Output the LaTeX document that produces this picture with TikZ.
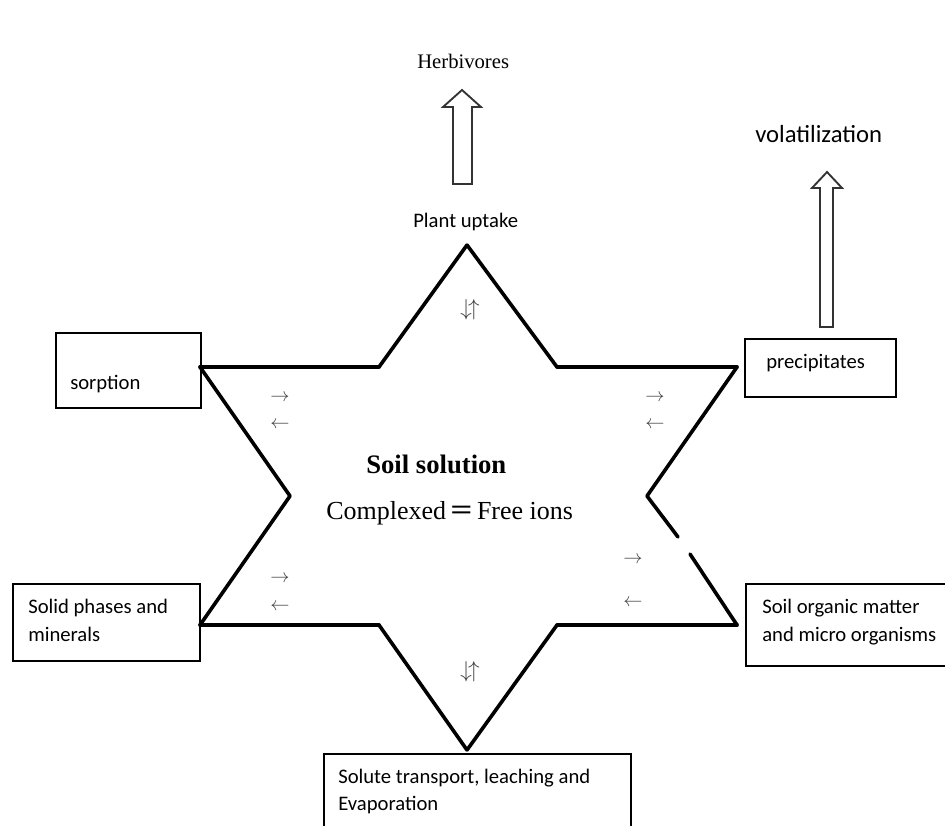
\documentclass[tikz,border=0pt]{standalone}
\usepackage{fontspec}
\usepackage{graphicx}
\setmainfont{Liberation Serif}
\setsansfont{Carlito}
\begin{document}
\begin{tikzpicture}
  [x=0.75pt,y=-0.75pt,line join=miter,
   box/.style={draw,line width=1.5pt,anchor=north west,inner sep=0pt},
   txt/.style={anchor=base west,inner sep=0pt,font=\sffamily\fontsize{15.5}{18}\selectfont},
   srf/.style={anchor=base west,inner sep=0pt},
   sym/.style={inner sep=0pt,text=black!75,font=\fontsize{15}{15}\selectfont},
   hollow/.style={draw=black!80,line width=1.4pt,fill=white}]
  \clip (0,0) rectangle (945,825);

  % star corners
  \coordinate (s1) at (467,245);
  \coordinate (s2) at (557,367);
  \coordinate (s3) at (737,367);
  \coordinate (s4) at (647,496);
  \coordinate (s5) at (737,625);
  \coordinate (s6) at (557,625);
  \coordinate (s7) at (467,750);
  \coordinate (s8) at (379,625);
  \coordinate (s9) at (200,625);
  \coordinate (s10) at (290,496);
  \coordinate (s11) at (200,367);
  \coordinate (s12) at (379,367);
  \coordinate (g1) at (678,537);
  \coordinate (g2) at (690,554);
  \foreach \from/\to in {s1/s2,s2/s3,s3/s4,s5/s6,s6/s7,s7/s8,s8/s9,s9/s10,
  s10/s11,s11/s12,s12/s1,s4/g1,g2/s5}
    \draw[line width=2.7pt,line cap=round] (\from) -- (\to);

  % boxes
  \node[box,minimum width=108.75pt,minimum height=56.25pt] (b1) at (55,332) {};
  \node[box,minimum width=113.25pt,minimum height=43.5pt] (b2) at (744,338) {};
  \node[box,minimum width=140.25pt,minimum height=57.75pt] (b3) at (12,583) {};
  \node[box,minimum width=165pt,minimum height=61.5pt] (b4) at (745,583) {};
  \node[box,minimum width=230.25pt,minimum height=70pt] (b5) at (323,753) {};

  \node[txt] (t1) at (70,389) {sorption};
  \node[txt] (t2) at (766,368) {precipitates};
  \node[txt] (t3) at (28,613) {Solid phases and};
  \node[txt] (t4) at (28,641) {minerals};
  \node[txt] (t5) at (762,613) {Soil organic matter};
  \node[txt] (t6) at (762,641) {and micro organisms};
  \node[txt] (t7) at (338,783) {Solute transport, leaching and};
  \node[txt] (t8) at (338,810) {Evaporation};
  \node[txt] (t9) at (413,227) {Plant uptake};
  \node[txt,font=\sffamily\fontsize{18.5}{20}\selectfont] (t10) at (755,142) {volatilization};
  \node[srf,font=\fontsize{15.5}{18}\selectfont] (t11) at (417,68) {Herbivores};
  \node[srf,font=\bfseries\fontsize{20}{24}\selectfont] (t12) at (366,473) {Soil solution};
  \node[srf,font=\fontsize{19.5}{24}\selectfont] (t13) at (326,519)
    {Complexed\,\scalebox{1.5}[1.1]{\textbf{=}}\,Free ions};

  % hollow arrows
  \draw[hollow] (453,184) -- (453,107) -- (443,107) -- (462,90) -- (481,107)
    -- (472,107) -- (472,184) -- cycle;
  \draw[hollow] (820,327) -- (820,188) -- (812,188) -- (827,172) -- (842,188)
    -- (833,188) -- (833,327) -- cycle;

  % small arrows
  \foreach \n/\x/\y in {a1/280/398,a2/655/398,a3/280/579,a4/633/560}
    \node[sym] (\n) at (\x,\y) {$\rightarrow$};
  \foreach \n/\x/\y in {c1/280/425,c2/655/425,c3/280/607,c4/633/603}
    \node[sym] (\n) at (\x,\y) {$\leftarrow$};
  \node[sym,font=\fontsize{17}{17}\selectfont] (d1) at (470,310) {$\downarrow\!\uparrow$};
  \node[sym,font=\fontsize{17}{17}\selectfont] (d2) at (470,672) {$\downarrow\!\uparrow$};
\end{tikzpicture}
\end{document}
